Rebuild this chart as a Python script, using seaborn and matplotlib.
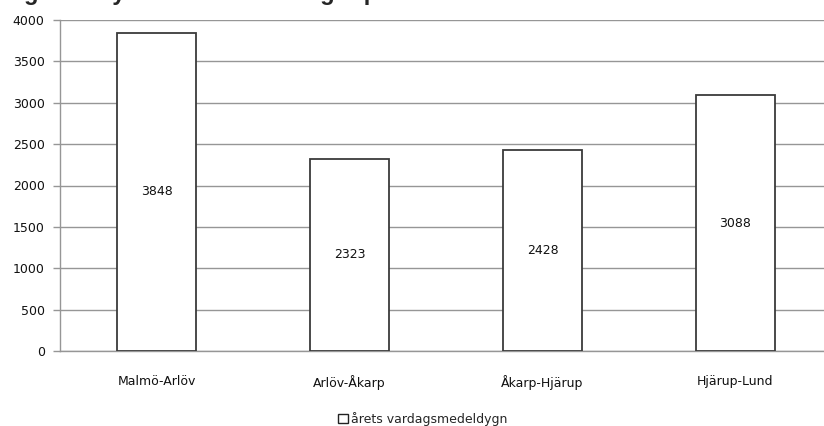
import matplotlib
matplotlib.use("Agg")
import matplotlib.pyplot as plt
from matplotlib.patches import Patch
from matplotlib.ticker import FixedLocator
import seaborn as sns
import pandas as pd

# Cykeltrafik per delsträcka
delstrackor = ["Malmö-Arlöv", "Arlöv-Åkarp", "Åkarp-Hjärup", "Hjärup-Lund"]
vardagsmedeldygn = [3848, 2323, 2428, 3088]
y_ticks = [0, 500, 1000, 1500, 2000, 2500, 3000, 3500, 4000]
serie_namn = "årets vardagsmedeldygn"
rubrik = "Figur 4. Cykeltrafik – mätningar per delsträcka"

df = pd.DataFrame({"delstracka": delstrackor, "antal": vardagsmedeldygn})

sns.set_theme(style="white")
plt.rcParams["font.family"] = ["DejaVu Sans"]

fig = plt.figure(figsize=(8.24, 4.26), dpi=100)
ax = fig.add_axes([60 / 824, 1 - 351 / 426, 772 / 824, 331 / 426])

sns.barplot(data=df, x="delstracka", y="antal", ax=ax, color="white",
            edgecolor="#3a3a3a", linewidth=1.3, width=0.41, zorder=3)

grid_grey = "#969696"
ax.set_ylim(0, 4000)
ax.set_xlim(-0.5, len(delstrackor) - 0.5)
ax.set_yticks(y_ticks)
ax.set_yticklabels([str(t) for t in y_ticks], fontsize=9, color="#111111")
ax.yaxis.grid(True, color=grid_grey, linewidth=1.0, zorder=0)
ax.xaxis.grid(False)
ax.set_axisbelow(True)

ax.set_xticks(range(len(delstrackor)))
ax.set_xticklabels(delstrackor, fontsize=9, color="#111111")
ax.tick_params(axis="x", which="major", length=0, pad=17)
ax.xaxis.set_minor_locator(FixedLocator([i - 0.5 for i in range(len(delstrackor) + 1)]))
ax.tick_params(axis="x", which="minor", length=5, color=grid_grey, width=1.0)
ax.tick_params(axis="y", which="major", length=5, color=grid_grey, width=1.0, pad=6, left=True)

ax.set_xlabel("")
ax.set_ylabel("")
for side in ("top", "right"):
    ax.spines[side].set_visible(False)
for side in ("left", "bottom"):
    ax.spines[side].set_color(grid_grey)
    ax.spines[side].set_linewidth(1.0)

# Värdeetiketter mitt i staplarna
for i, v in enumerate(vardagsmedeldygn):
    ax.text(i, v / 2, str(v), ha="center", va="center", fontsize=9,
            color="#111111", zorder=4)

fig.legend(handles=[Patch(facecolor="white", edgecolor="#222222", linewidth=1.0)],
           labels=[serie_namn], loc="center", bbox_to_anchor=(0.513, 1 - 419 / 426),
           frameon=False, fontsize=9, handlelength=0.8, handleheight=0.8,
           handletextpad=0.3)

fig.text(0.004, 1.0, rubrik, ha="left", va="baseline", fontsize=17,
         fontweight="bold", family=["Liberation Sans", "DejaVu Sans"])

fig.savefig("out.png", dpi=100)
